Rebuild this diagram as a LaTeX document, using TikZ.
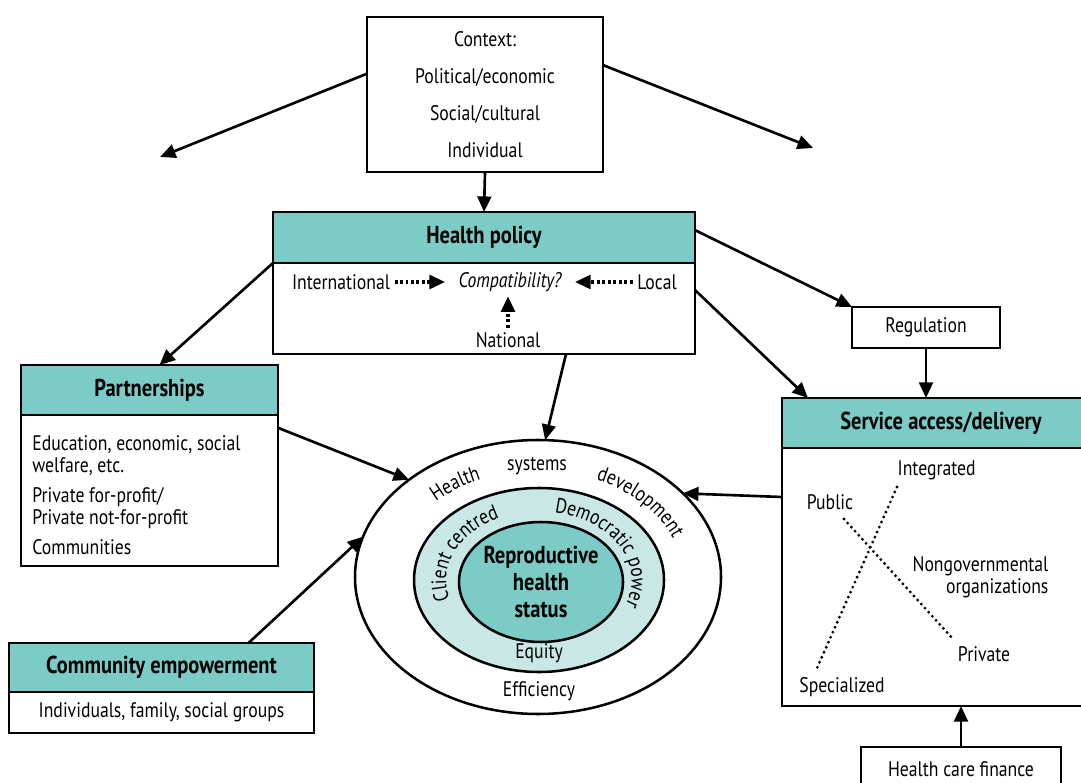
\documentclass[tikz,border=0pt]{standalone}
\usepackage{fontspec}
\setmainfont{PT Sans}[FakeStretch=0.84]
\usetikzlibrary{arrows.meta,shapes.geometric,decorations.text}
\definecolor{headteal}{HTML}{7BCBC6}
\definecolor{ringteal}{HTML}{C9E7E4}
\newcommand{\px}{0.0167cm}

\begin{document}
\begin{tikzpicture}[x=\px, y=-\px,
  hdr/.style={draw, fill=headteal, font=\fontsize{11.6}{13}\selectfont\bfseries, line width=0.7pt,
    anchor=north west, inner sep=0pt, outer sep=0pt, minimum height=51*\px},
  box/.style={draw, fill=white, line width=0.7pt, inner sep=0pt, outer sep=0pt},
  lbl/.style={inner sep=2pt},
  arr/.style={line width=1.25pt, -{Triangle[length=2.6mm, width=2.3mm]}},
  dotarr/.style={line width=1.5pt, dash pattern=on 1.4pt off 1.2pt, -{Triangle[length=2.6mm, width=2.3mm]},
    shorten >=9*\px},
  dotline/.style={line width=1.5pt, line cap=round, dash pattern=on 0pt off 2.6pt},
  ring/.style={ellipse, draw, line width=1.2pt, inner sep=0pt, outer sep=0pt},
  arctext/.style={decorate, decoration={text along path, text align=center, text={#1}}}]

\clip (0,0) rectangle (1081,783);

\node[box, minimum width=236*\px, minimum height=155*\px, align=center,
  font=\fontsize{10}{17.6}\selectfont] (ctx) at (485,94.5)
  {Context:\\Political/economic\\Social/cultural\\Individual};
\coordinate (ctxl) at (160,157);
\coordinate (ctxr) at (813,148);
\draw[arr] (ctx.170) -- (ctxl);
\draw[arr] (ctx.14) -- (ctxr);

\node[hdr, minimum width=422*\px] (hp) at (273,212) {Health policy};
\node[box, anchor=north, minimum width=422*\px, minimum height=91*\px] (hpb) at (hp.south) {};
\draw[arr] (ctx.south) -- (hp.north);

\node[lbl] (intl) at (341,282) {International};
\node[lbl, font=\itshape] (comp) at (510,282) {Compatibility?};
\node[lbl] (loc) at (657,282) {Local};
\node[lbl] (natl) at (508,340) {National};
\draw[dotarr] (intl.east) -- (comp.west);
\draw[dotarr] (loc.west) -- (comp.east);
\draw[dotarr, shorten >=0pt] (natl.north) -- (natl.north |- comp.south);

\node[hdr, minimum width=257*\px, minimum height=50*\px] (pt) at (21,365) {Partnerships};
\node[box, anchor=north, minimum width=257*\px, minimum height=151*\px] (ptb) at (pt.south) {};
\node[align=left, anchor=north west, inner sep=0pt, font=\fontsize{10}{10.5}\selectfont] (ptt) at (32,435)
  {Education, economic, social\\welfare, etc.\\[3.8pt]Private for-profit/\\Private not-for-profit\\[3.8pt]Communities};

\node[hdr, minimum width=305*\px, minimum height=49*\px] (ce) at (9,643) {Community empowerment};
\node[box, anchor=north, minimum width=305*\px, minimum height=41*\px] (ceb) at (ce.south)
  {Individuals, family, social groups};

\node[box, minimum width=148*\px, minimum height=41*\px] (reg) at (926,327.5) {Regulation};

\node[hdr, minimum width=318*\px, minimum height=50*\px] (sv) at (782,398) {Service access/delivery};
\node[box, anchor=north, minimum width=318*\px, minimum height=258*\px] (svb) at (sv.south) {};
\node[box, minimum width=200*\px, minimum height=44*\px] (hcf) at (961,769) {Health care finance};

\node[lbl, anchor=west] (integ) at (893,470) {Integrated};
\node[lbl] (pub) at (830,502) {Public};
\node[lbl, align=right, anchor=east, font=\fontsize{10}{10.5}\selectfont] (ngo) at (1053,577)
  {Nongovernmental\\organizations};
\node[lbl] (priv) at (984,654) {Private};
\node[lbl] (spec) at (842,687) {Specialized};
\coordinate (i1) at (897,487);
\coordinate (i2) at (817,668);
\coordinate (p1) at (844,519);
\coordinate (p2) at (953,639);
\draw[dotline] (i1) -- (i2);
\draw[dotline] (p1) -- (p2);

\node[ring, fill=white, minimum width=366*\px, minimum height=274*\px] (outer) at (538,577) {};
\node[ring, fill=ringteal, minimum width=250*\px, minimum height=184*\px] (mid) at (539,580) {};
\node[ring, fill=headteal, minimum width=164*\px, minimum height=120*\px, align=center,
  font=\fontsize{11.6}{12.9}\selectfont\bfseries] (rhs) at (541,582) {Reproductive\\health\\status};

\node[lbl] (sys) at (537,466) {systems};
\node[lbl] (eqt) at (539,653) {Equity};
\node[lbl] (eff) at (539,691) {Efficiency};
\path[arctext={Health}] ([shift={(150:2.42cm and 1.77cm)}]outer.center)
  arc[start angle=150, end angle=100, x radius=2.42cm, y radius=1.77cm];
\path[arctext={development}] ([shift={(78:2.42cm and 1.77cm)}]outer.center)
  arc[start angle=78, end angle=6, x radius=2.42cm, y radius=1.77cm];
\path[arctext={Client centred}] ([shift={(215:1.55cm and 1.14cm)}]mid.center)
  arc[start angle=215, end angle=100, x radius=1.55cm, y radius=1.14cm];
\path[arctext={Democratic power}] ([shift={(100:1.55cm and 1.14cm)}]mid.center)
  arc[start angle=100, end angle=-45, x radius=1.55cm, y radius=1.14cm];

\draw[arr] (hpb.north west) -- ([xshift=10*\px]pt.north);
\draw[arr] ([xshift=82*\px]hpb.south) -- (outer.87);
\draw[arr] (ptb.26) -- (outer.143);
\draw[arr] ([xshift=87*\px]ce.north) -- (outer.167);
\draw[arr] ([yshift=80*\px]svb.west) -- (outer.30);
\draw[arr] (hp.2) -- (reg.north west);
\draw[arr] (hpb.5) -- ([xshift=26*\px]sv.north west);
\draw[arr] (reg.south) -- (reg.south |- sv.north);
\draw[arr] (hcf.north) -- (hcf.north |- svb.south);

\end{tikzpicture}
\end{document}
